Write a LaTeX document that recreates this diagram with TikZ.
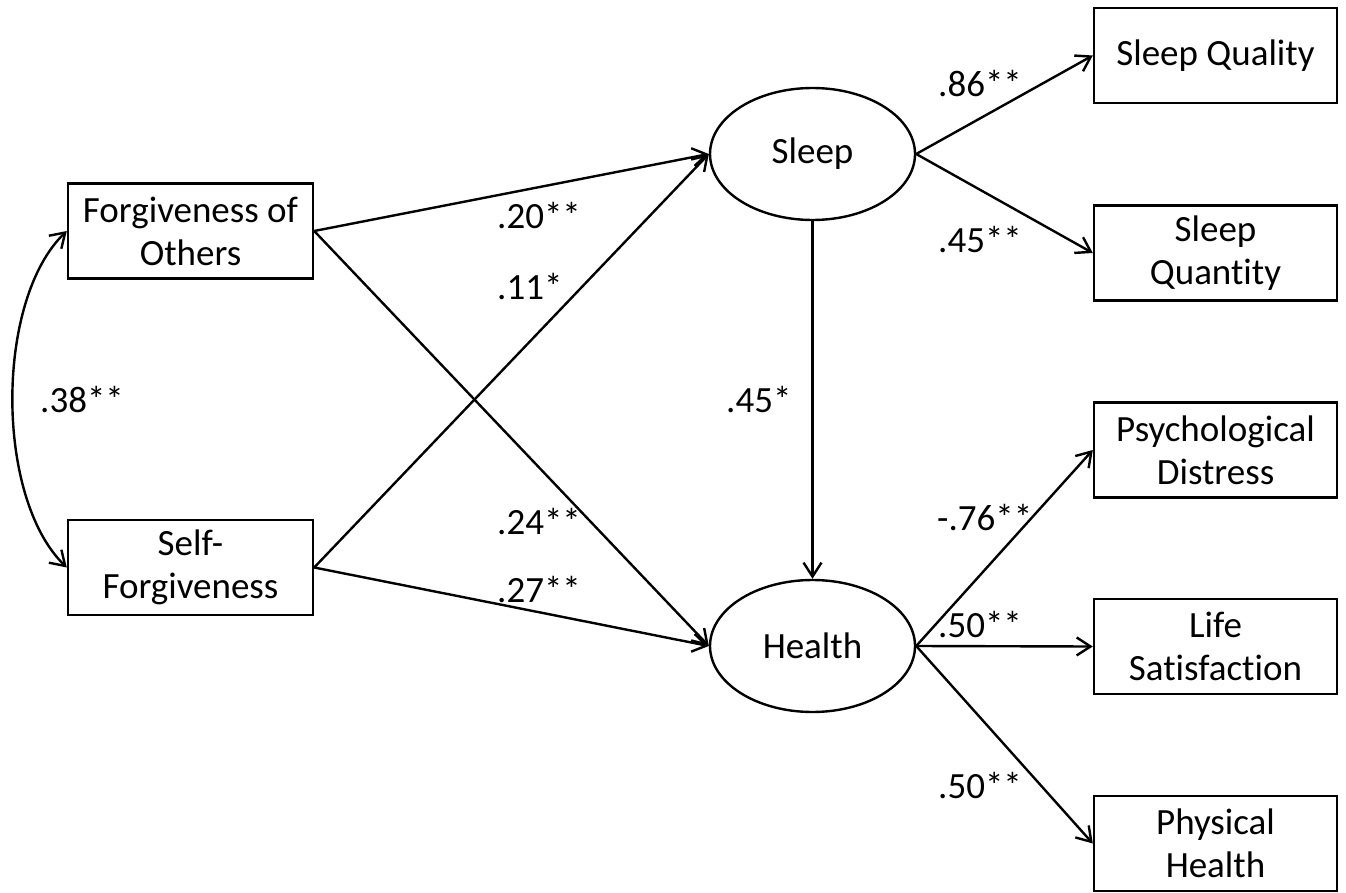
\documentclass[tikz,border=0pt]{standalone}
\usepackage{fontspec}
\setmainfont{Carlito}[Ligatures=NoCommon]
\usetikzlibrary{arrows.meta,shapes.geometric}
\begin{document}
\begin{tikzpicture}[x=1pt,y=-1pt,
  every node/.style={font=\fontsize{37}{43}\selectfont},
  obsbox/.style={draw, line width=2.4pt, minimum width=243pt, minimum height=95pt, inner sep=0pt, align=center},
  latent/.style={draw, ellipse, line width=2.4pt, minimum width=205pt, minimum height=132pt, inner sep=0pt},
  path/.style={line width=2.4pt, -{Straight Barb[length=14pt,width=18pt]}},
  coef/.style={anchor=west, inner sep=0pt}]
\useasboundingbox (0,0) rectangle (1346,893);
% observed exogenous
\node[obsbox, minimum width=245pt] (fo) at (190.5,231) {Forgiveness of\\Others};
\node[obsbox, minimum width=245pt] (sf) at (190.5,567.5) {Self-\\Forgiveness};
% latent
\node[latent] (sleep) at (812.5,154) {Sleep};
\node[latent] (health) at (812.5,646) {Health};
% indicators
\node[obsbox] (sq) at (1215.5,55.5) {Sleep Quality};
\node[obsbox] (sqt) at (1215.5,253) {Sleep\\Quantity};
\node[obsbox] (pd) at (1215.5,450) {Psychological\\Distress};
\node[obsbox] (ls) at (1215.5,646.5) {Life\\Satisfaction};
\node[obsbox] (ph) at (1215.5,843.5) {Physical\\Health};
% paths
\draw[path] (fo.east) -- (sleep.west);
\draw[path] (fo.east) -- (health.west);
\draw[path] (sf.east) -- (sleep.west);
\draw[path] (sf.east) -- (health.west);
\draw[path] (sleep.south) -- (health.north);
\draw[path] (sleep.east) -- (sq.west);
\draw[path] (sleep.east) -- (sqt.west);
\draw[path] (health.east) -- (pd.west);
\draw[path] (health.east) -- (ls.west);
\draw[path] (health.east) -- (ph.west);
% covariance
\draw[line width=2.4pt, {Straight Barb[length=14pt,width=18pt]}-{Straight Barb[length=14pt,width=18pt]}]
  (fo.west) .. controls (-5,300) and (-5,498) .. (sf.west);
% coefficients
\node[coef] (c38) at (40,400) {.38**};
\node[coef] (c20) at (497,216) {.20**};
\node[coef] (c11) at (497,287) {.11*};
\node[coef] (c24) at (497,522) {.24**};
\node[coef] (c27) at (497,590) {.27**};
\node[coef] (c45s) at (726,400) {.45*};
\node[coef] (c86) at (938,84) {.86**};
\node[coef] (c45) at (938,240) {.45**};
\node[coef] (c76) at (937,518) {-.76**};
\node[coef] (c50a) at (938,625) {.50**};
\node[coef] (c50b) at (938,786) {.50**};
\end{tikzpicture}
\end{document}
